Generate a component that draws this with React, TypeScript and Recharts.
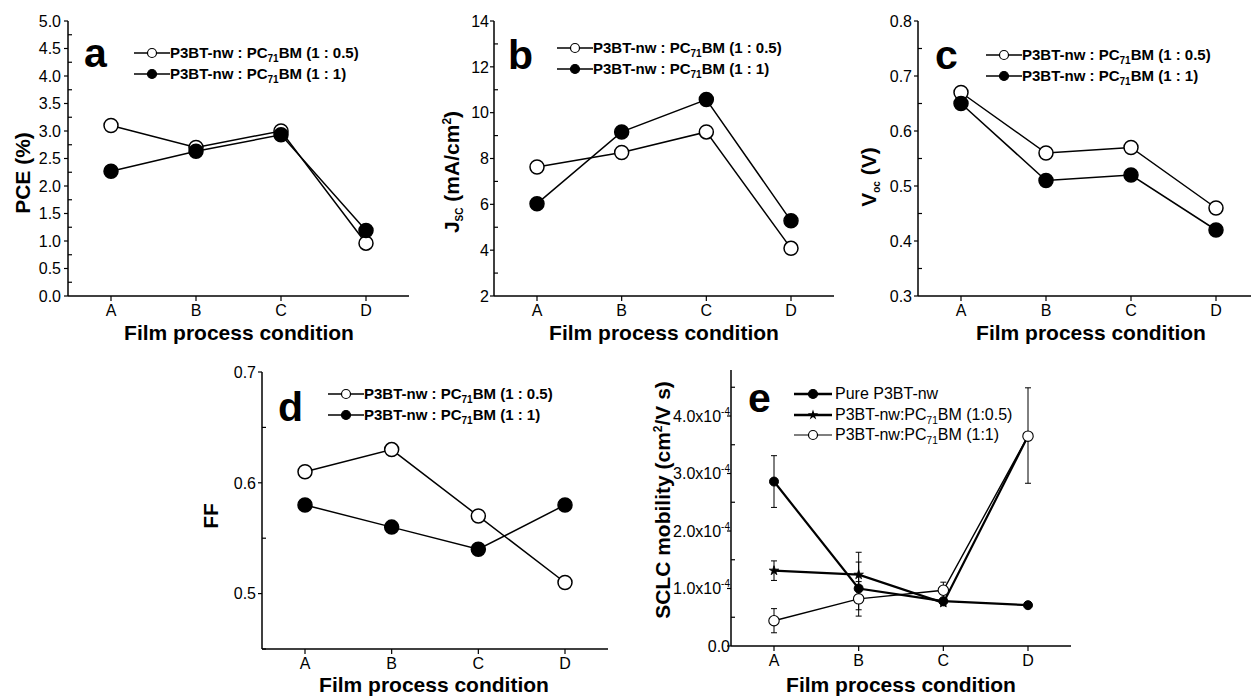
import React from "react";
import { LineChart, Line, XAxis, YAxis, ErrorBar, Symbols } from "recharts";

const categories = ["A", "B", "C", "D"];

// panel a-d, two blend ratios
const pceHalf = [3.1, 2.7, 3.0, 0.96];
const pceOne = [2.27, 2.63, 2.93, 1.19];
const jscHalf = [7.63, 8.26, 9.16, 4.08];
const jscOne = [6.03, 9.16, 10.57, 5.28];
const vocHalf = [0.67, 0.56, 0.57, 0.46];
const vocOne = [0.65, 0.51, 0.52, 0.42];
const ffHalf = [0.61, 0.63, 0.57, 0.51];
const ffOne = [0.58, 0.56, 0.54, 0.58];

// panel e, SCLC mobility in units of 1e-4 cm2/V s, errors as [down, up]
const mobPure = [2.86, 1.0, 0.78, 0.71];
const mobPureErr = [[0.45, 0.45], [0.37, 0.63], [0.04, 0.04], [0.04, 0.04]];
const mobStar = [1.31, 1.24, 0.75, 3.65];
const mobStarErr = [[0.17, 0.17], [0.22, 0.22], [0.05, 0.05], [0, 0]];
const mobOpen = [0.44, 0.82, 0.97, 3.65];
const mobOpenErr = [[0.21, 0.21], [0.3, 0.3], [0.14, 0.14], [0.82, 0.84]];

const pceTicks = [0, 0.25, 0.5, 0.75, 1, 1.25, 1.5, 1.75, 2, 2.25, 2.5, 2.75, 3, 3.25, 3.5, 3.75, 4, 4.25, 4.5, 4.75, 5];
const pceMajor = [0, 0.5, 1, 1.5, 2, 2.5, 3, 3.5, 4, 4.5, 5];
const jscTicks = [2, 3, 4, 5, 6, 7, 8, 9, 10, 11, 12, 13, 14];
const jscMajor = [2, 4, 6, 8, 10, 12, 14];
const vocTicks = [0.3, 0.35, 0.4, 0.45, 0.5, 0.55, 0.6, 0.65, 0.7, 0.75, 0.8];
const vocMajor = [0.3, 0.4, 0.5, 0.6, 0.7, 0.8];
const ffTicks = [0.45, 0.5, 0.55, 0.6, 0.65, 0.7];
const ffMajor = [0.5, 0.6, 0.7];
const mobTicks = [0, 0.5, 1, 1.5, 2, 2.5, 3, 3.5, 4, 4.5];
const mobMajor = [0, 1, 2, 3, 4];

const FONT = "'Liberation Sans', Arial, sans-serif";
const axisLine = { stroke: "#000", strokeWidth: 1.5 };

function yTick(major: number[], gap: number, fmt: (v: number) => React.ReactNode) {
  return function Tick(props: any) {
    const { x, y, payload } = props;
    const v = payload.value;
    const isMajor = major.some((m) => Math.abs(m - v) < 1e-6);
    if (!isMajor) {
      return <line x1={x} x2={x + 4} y1={y} y2={y} stroke="#000" strokeWidth={1.2} />;
    }
    return (
      <g>
        <line x1={x - 4} x2={x} y1={y} y2={y} stroke="#000" strokeWidth={1.2} />
        <text x={x - gap} y={y} dy="0.36em" textAnchor="end" fontSize={16} fill="#000">
          {fmt(v)}
        </text>
      </g>
    );
  };
}

function StarDot(props: any) {
  const { cx, cy, index } = props;
  return <Symbols key={`s${index}`} cx={cx} cy={cy} type="star" size={28} fill="#000" stroke="#000" strokeWidth={0.8} />;
}

type Frame = { left: number; top: number; width: number; height: number; plot: number[] };

function Chart({ f, rows, domain, ticks, tick, children }: any) {
  const [pl, pt, pr, pb] = f.plot;
  const yw = pl - f.left;
  const xh = f.top + f.height - pb;
  return (
    <div style={{ position: "absolute", left: f.left, top: f.top }}>
      <LineChart width={f.width} height={f.height} data={rows} margin={{ top: pt - f.top, right: f.left + f.width - pr, bottom: 0, left: 0 }}>
        <XAxis dataKey="cat" padding={{ left: 43, right: 43 }} height={xh} tickSize={5} tickMargin={4}
          tick={{ fontSize: 16, fill: "#000" }} tickLine={{ stroke: "#000", strokeWidth: 1.2 }} axisLine={axisLine} interval={0} />
        <XAxis xAxisId="top" orientation="top" dataKey="cat" padding={{ left: 43, right: 43 }} height={0} tick={false} tickLine={false} axisLine={axisLine} />
        <YAxis type="number" domain={domain} ticks={ticks} width={yw} tickSize={0} tickMargin={0} tick={tick} tickLine={false} axisLine={axisLine} interval={0} />
        <YAxis yAxisId="right" orientation="right" type="number" domain={domain} width={0} tick={false} tickLine={false} axisLine={axisLine} />
        {children}
      </LineChart>
    </div>
  );
}

function Txt({ x, y, size = 21, bold = true, rotate = false, children }: any) {
  return (
    <div style={{
      position: "absolute", left: x, top: y, fontSize: size, fontWeight: bold ? "bold" : "normal", lineHeight: 1,
      whiteSpace: "nowrap", transform: `translate(-50%, -50%)${rotate ? " rotate(-90deg)" : ""}`,
    }}>
      {children}
    </div>
  );
}

function Letter({ x, baseline, children }: any) {
  return (
    <div style={{ position: "absolute", left: x, top: baseline - 0.8465 * 41, fontSize: 41, fontWeight: "bold", lineHeight: 1 }}>
      {children}
    </div>
  );
}

function Marker({ kind, lw, w, gap }: any) {
  const c = w / 2;
  return (
    <svg width={w + gap} height={20} style={{ flex: "none" }}>
      <line x1={0} x2={w} y1={10} y2={10} stroke="#000" strokeWidth={lw} />
      {kind === "star" ? (
        <Symbols cx={c} cy={10} type="star" size={34} fill="#000" />
      ) : (
        <circle cx={c} cy={10} r={4.5} fill={kind === "filled" ? "#000" : "#fff"} stroke="#000" strokeWidth={1.2} />
      )}
    </svg>
  );
}

function LegendRow({ x, y, kind, lw = 1.5, w = 36, gap = 0, size = 15, bold = true, children }: any) {
  return (
    <div style={{ position: "absolute", left: x, top: y - 10, height: 20, display: "flex", alignItems: "center", whiteSpace: "nowrap" }}>
      <Marker kind={kind} lw={lw} w={w} gap={gap} />
      <span style={{ fontSize: size, fontWeight: bold ? "bold" : "normal", lineHeight: "20px" }}>{children}</span>
    </div>
  );
}

const sub = (t: string) => <sub style={{ fontSize: 10, verticalAlign: "-4px", lineHeight: 0 }}>{t}</sub>;
const sup = (t: string) => <sup style={{ fontSize: 12, verticalAlign: "8px", lineHeight: 0 }}>{t}</sup>;

function pairRows(half: number[], one: number[]) {
  return categories.map((cat, i) => ({ cat, half: half[i], one: one[i] }));
}

function PairLines() {
  return [
    <Line key="h" dataKey="half" stroke="#000" strokeWidth={1.5} isAnimationActive={false} activeDot={false}
      dot={{ r: 7, fill: "#fff", stroke: "#000", strokeWidth: 1.5 }} />,
    <Line key="o" dataKey="one" stroke="#000" strokeWidth={1.5} isAnimationActive={false} activeDot={false}
      dot={{ r: 7, fill: "#000", stroke: "#000", strokeWidth: 1.5 }} />,
  ];
}

function PairLegend({ x, y }: any) {
  return (
    <>
      <LegendRow x={x} y={y} kind="open">P3BT-nw : PC{sub("71")}BM (1 : 0.5)</LegendRow>
      <LegendRow x={x} y={y + 20.5} kind="filled">P3BT-nw : PC{sub("71")}BM (1 : 1)</LegendRow>
    </>
  );
}

const fA: Frame = { left: 0, top: 0, width: 420, height: 350, plot: [68, 21, 409, 296] };
const fB: Frame = { left: 420, top: 0, width: 420, height: 350, plot: [494, 21, 834, 296] };
const fC: Frame = { left: 840, top: 0, width: 420, height: 350, plot: [918, 21, 1259, 296] };
const fD: Frame = { left: 180, top: 350, width: 440, height: 346, plot: [262, 372, 608, 649] };
const fE: Frame = { left: 620, top: 350, width: 460, height: 346, plot: [731, 370, 1071, 646] };

export default function App() {
  const mobRows = categories.map((cat, i) => ({
    cat, pure: mobPure[i], pureErr: mobPureErr[i], star: mobStar[i], starErr: mobStarErr[i], open: mobOpen[i], openErr: mobOpenErr[i],
  }));
  const mobFmt = (v: number) =>
    v === 0 ? "0.0" : (<>{v.toFixed(1)}x10<tspan dy={-7} fontSize={10}>-4</tspan></>);

  return (
    <div style={{ position: "absolute", left: 0, top: 0, width: 1251, height: 696, overflow: "hidden", background: "#fff", fontFamily: FONT, color: "#000" }}>
      <Chart f={fA} rows={pairRows(pceHalf, pceOne)} domain={[0, 5]} ticks={pceTicks} tick={yTick(pceMajor, 7, (v) => v.toFixed(1))}>
        {PairLines()}
      </Chart>
      <Chart f={fB} rows={pairRows(jscHalf, jscOne)} domain={[2, 14]} ticks={jscTicks} tick={yTick(jscMajor, 5, (v) => String(v))}>
        {PairLines()}
      </Chart>
      <Chart f={fC} rows={pairRows(vocHalf, vocOne)} domain={[0.3, 0.8]} ticks={vocTicks} tick={yTick(vocMajor, 6, (v) => v.toFixed(1))}>
        {PairLines()}
      </Chart>
      <Chart f={fD} rows={pairRows(ffHalf, ffOne)} domain={[0.45, 0.7]} ticks={ffTicks} tick={yTick(ffMajor, 6, (v) => v.toFixed(1))}>
        {PairLines()}
      </Chart>
      <Chart f={fE} rows={mobRows} domain={[0, 4.8]} ticks={mobTicks} tick={yTick(mobMajor, 1, mobFmt)}>
        <Line dataKey="pure" stroke="#000" strokeWidth={2.2} isAnimationActive={false} activeDot={false}
          dot={{ r: 4.5, fill: "#000", stroke: "#000", strokeWidth: 1 }}>
          <ErrorBar dataKey="pureErr" direction="y" width={3} stroke="#000" strokeWidth={1} isAnimationActive={false} />
        </Line>
        <Line dataKey="star" stroke="#000" strokeWidth={2.2} isAnimationActive={false} activeDot={false} dot={StarDot}>
          <ErrorBar dataKey="starErr" direction="y" width={3} stroke="#000" strokeWidth={1} isAnimationActive={false} />
        </Line>
        <Line dataKey="open" stroke="#000" strokeWidth={1.4} isAnimationActive={false} activeDot={false}
          dot={{ r: 5.2, fill: "#fff", stroke: "#000", strokeWidth: 1.1 }}>
          <ErrorBar dataKey="openErr" direction="y" width={3} stroke="#000" strokeWidth={1} isAnimationActive={false} />
        </Line>
      </Chart>

      {/* panel letters */}
      <Letter x={84} baseline={68}>a</Letter>
      <Letter x={508} baseline={70}>b</Letter>
      <Letter x={935} baseline={70}>c</Letter>
      <Letter x={278} baseline={422}>d</Letter>
      <Letter x={748} baseline={413}>e</Letter>

      {/* legends */}
      <PairLegend x={134} y={53} />
      <PairLegend x={557} y={48} />
      <PairLegend x={986} y={55} />
      <PairLegend x={328} y={394} />
      <LegendRow x={794} y={394} kind="filled" lw={2.5} w={38} gap={3} size={16} bold={false}>Pure P3BT-nw</LegendRow>
      <LegendRow x={794} y={414.5} kind="star" lw={2.5} w={38} gap={3} size={16} bold={false}>P3BT-nw:PC{sub("71")}BM (1:0.5)</LegendRow>
      <LegendRow x={794} y={435} kind="open" lw={1.2} w={38} gap={3} size={16} bold={false}>P3BT-nw:PC{sub("71")}BM (1:1)</LegendRow>

      {/* axis titles */}
      <Txt x={22} y={173} rotate>PCE (%)</Txt>
      <Txt x={451} y={172} rotate>J{sub("SC")} (mA/cm{sup("2")})</Txt>
      <Txt x={868} y={177} rotate>V{sub("oc")} (V)</Txt>
      <Txt x={210} y={516} rotate>FF</Txt>
      <Txt x={662} y={500} rotate>SCLC mobility (cm{sup("2")}/V s)</Txt>
      <Txt x={239} y={332}>Film process condition</Txt>
      <Txt x={664} y={332}>Film process condition</Txt>
      <Txt x={1091} y={332}>Film process condition</Txt>
      <Txt x={434} y={684}>Film process condition</Txt>
      <Txt x={901} y={684}>Film process condition</Txt>
    </div>
  );
}
